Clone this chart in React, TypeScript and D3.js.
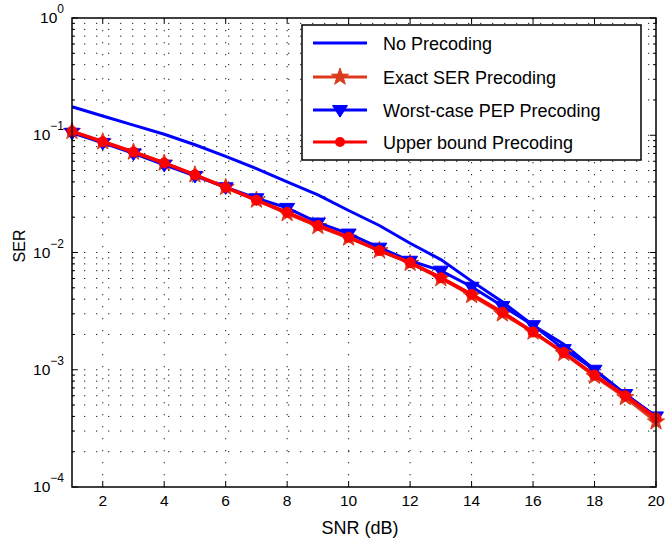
import React from "react";
import * as d3 from "d3";

const snr = [1, 2, 3, 4, 5, 6, 7, 8, 9, 10, 11, 12, 13, 14, 15, 16, 17, 18, 19, 20];
const noPrecoding = [0.175, 0.146, 0.122, 0.102, 0.083, 0.066, 0.052, 0.040, 0.031, 0.0228, 0.017, 0.012, 0.0087, 0.0057, 0.0038, 0.0024, 0.00165, 0.001, 0.00062, 0.0004];
const exactSER = [0.108, 0.088, 0.072, 0.058, 0.046, 0.036, 0.028, 0.0215, 0.0167, 0.0133, 0.0104, 0.0081, 0.006, 0.0043, 0.003, 0.0021, 0.00138, 0.00088, 0.00058, 0.00036];
const worstPEP = [0.105, 0.086, 0.07, 0.056, 0.045, 0.036, 0.029, 0.024, 0.018, 0.0145, 0.011, 0.0085, 0.007, 0.0051, 0.0035, 0.0024, 0.0015, 0.001, 0.00062, 0.0004];
const upperBound = [0.108, 0.088, 0.072, 0.058, 0.046, 0.036, 0.028, 0.022, 0.017, 0.0135, 0.0104, 0.0082, 0.0061, 0.0044, 0.0031, 0.0021, 0.0014, 0.0009, 0.0006, 0.00039];
const xTicks = [2, 4, 6, 8, 10, 12, 14, 16, 18, 20];
const yExponents = [0, -1, -2, -3, -4];
const legendLabels = ["No Precoding", "Exact SER Precoding", "Worst-case PEP Precoding", "Upper bound Precoding"];

const W = 665, H = 542;
const L = 72, R = 656, T = 18, B = 487;
const FONT = "'Liberation Sans', Arial, Helvetica, sans-serif";
const BLUE = "#0000ff";
const STAR = "#dc3a1c";
const RED = "#ff0000";

function starPath(cx: number, cy: number, ro: number, ri: number) {
  const pts: string[] = [];
  for (let i = 0; i < 10; i++) {
    const r = i % 2 === 0 ? ro : ri;
    const a = -Math.PI / 2 + (i * Math.PI) / 5;
    pts.push(`${(cx + r * Math.cos(a)).toFixed(2)},${(cy + r * Math.sin(a)).toFixed(2)}`);
  }
  return "M" + pts.join("L") + "Z";
}
function triDown(cx: number, cy: number, s: number) {
  return `M${cx - s},${cy - s * 0.6}L${cx + s},${cy - s * 0.6}L${cx},${cy + s * 0.95}Z`;
}

export default function App() {
  const x = d3.scaleLinear().domain([1, 20]).range([L, R]);
  const y = d3.scaleLog().domain([1e-4, 1]).range([B, T]);
  const line = d3.line<number>().x((_, i) => x(snr[i])).y((d) => y(d));

  const minor: number[] = [];
  for (let e = -4; e < 0; e++) for (let m = 2; m <= 9; m++) minor.push(m * Math.pow(10, e));
  const majors = yExponents.map((e) => Math.pow(10, e));

  const dash = "1.3,10.7";
  const rows = [43, 77, 110, 142];

  return (
    <svg width={W} height={H} style={{ position: "absolute", left: 0, top: 0, background: "#fff" }} fontFamily={FONT}>
      <rect x={0} y={0} width={W} height={H} fill="#fff" />
      {/* grid */}
      <g stroke="#222" strokeWidth={1} strokeDasharray={dash}>
        {[...minor, ...majors.slice(1, 4)].map((v, i) => (
          <line key={"h" + i} x1={L} x2={R} y1={y(v)} y2={y(v)} />
        ))}
        {xTicks.slice(0, -1).map((v) => (
          <line key={"v" + v} x1={x(v)} x2={x(v)} y1={T} y2={B} />
        ))}
      </g>
      {/* ticks */}
      <g stroke="#000" strokeWidth={1}>
        {xTicks.map((v) => (
          <g key={"xt" + v}>
            <line x1={x(v)} x2={x(v)} y1={B} y2={B - 6} />
            <line x1={x(v)} x2={x(v)} y1={T} y2={T + 6} />
          </g>
        ))}
        {majors.map((v, i) => (
          <g key={"ymt" + i}>
            <line x1={L} x2={L + 6} y1={y(v)} y2={y(v)} />
            <line x1={R} x2={R - 6} y1={y(v)} y2={y(v)} />
          </g>
        ))}
        {minor.map((v, i) => (
          <g key={"ymn" + i}>
            <line x1={L} x2={L + 3} y1={y(v)} y2={y(v)} />
            <line x1={R} x2={R - 3} y1={y(v)} y2={y(v)} />
          </g>
        ))}
      </g>
      {/* data */}
      <path d={line(noPrecoding) || ""} fill="none" stroke={BLUE} strokeWidth={3} />
      <path d={line(exactSER) || ""} fill="none" stroke={STAR} strokeWidth={3} />
      {exactSER.map((v, i) => (
        <path key={"s" + i} d={starPath(x(snr[i]), y(v), 9, 3.6)} fill={STAR} stroke={STAR} strokeWidth={1} />
      ))}
      <path d={line(worstPEP) || ""} fill="none" stroke={BLUE} strokeWidth={3} />
      {worstPEP.map((v, i) => (
        <path key={"t" + i} d={triDown(x(snr[i]), y(v), 7.5)} fill={BLUE} stroke={BLUE} strokeWidth={1} />
      ))}
      <path d={line(upperBound) || ""} fill="none" stroke={RED} strokeWidth={3.5} />
      {upperBound.map((v, i) => (
        <circle key={"c" + i} cx={x(snr[i])} cy={y(v)} r={5} fill={RED} stroke={RED} />
      ))}
      {/* box */}
      <rect x={L} y={T} width={R - L} height={B - T} fill="none" stroke="#000" strokeWidth={1.5} />
      {/* tick labels */}
      <g fontSize={15.5} fill="#000">
        {xTicks.map((v) => (
          <text key={"xl" + v} x={x(v)} y={506} textAnchor="middle">{v}</text>
        ))}
        {yExponents.map((e) => (
          <text key={"yl" + e} x={64} y={y(Math.pow(10, e)) + 5} textAnchor="end">
            10<tspan dy={-10} fontSize={12}>{e === 0 ? "0" : "\u2212" + Math.abs(e)}</tspan>
          </text>
        ))}
      </g>
      <text x={(L + R) / 2 - 4} y={534} textAnchor="middle" fontSize={18}>SNR (dB)</text>
      <text transform={`translate(25,246) rotate(-90)`} textAnchor="middle" fontSize={16}>SER</text>
      {/* legend */}
      <rect x={302} y={25} width={339} height={135} fill="#fff" stroke="#000" strokeWidth={1.5} />
      <line x1={313} x2={367} y1={rows[0]} y2={rows[0]} stroke={BLUE} strokeWidth={3} />
      <line x1={313} x2={367} y1={rows[1]} y2={rows[1]} stroke={STAR} strokeWidth={3} />
      <path d={starPath(340, rows[1], 9, 3.6)} fill={STAR} stroke={STAR} />
      <line x1={313} x2={367} y1={rows[2]} y2={rows[2]} stroke={BLUE} strokeWidth={3} />
      <path d={triDown(340, rows[2], 7.5)} fill={BLUE} stroke={BLUE} />
      <line x1={313} x2={367} y1={rows[3]} y2={rows[3]} stroke={RED} strokeWidth={3} />
      <circle cx={340} cy={rows[3]} r={5} fill={RED} />
      {legendLabels.map((t, i) => (
        <text key={t} x={383} y={rows[i] + 6.5} fontSize={18} fill="#000">{t}</text>
      ))}
    </svg>
  );
}
